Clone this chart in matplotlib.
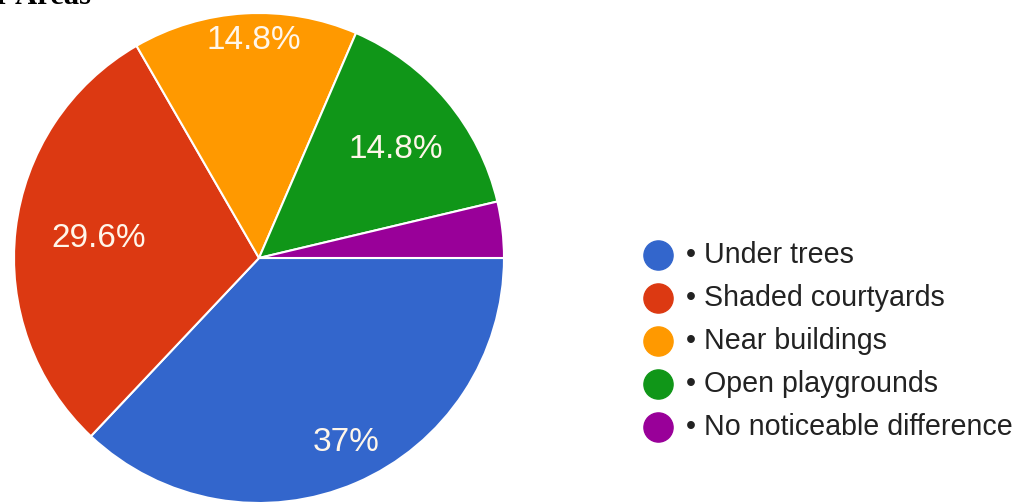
import matplotlib
matplotlib.use("Agg")
import matplotlib.pyplot as plt
from matplotlib.lines import Line2D
import numpy as np

categories = ["Under trees", "Shaded courtyards", "Near buildings",
              "Open playgrounds", "No noticeable difference"]
values = [10, 8, 4, 4, 1]
pct_labels = ["37%", "29.6%", "14.8%", "14.8%", ""]
colors = ["#3366CC", "#DC3912", "#FF9900", "#109618", "#990099"]
label_radius = [0.82, 0.69, 0.89, 0.69, 0.8]
title_text = "r Areas"

W, H = 1019, 504
fig = plt.figure(figsize=(W / 100, H / 100), dpi=100)
fig.patch.set_facecolor("white")

# pie axes: center ~ (259, 258) px, radius ~245 px
cx, cy, r = 259, 258, 245
ax = fig.add_axes([(cx - r) / W, (H - cy - r) / H, 2 * r / W, 2 * r / H])
wedges, _ = ax.pie(values, colors=colors, startangle=0, counterclock=False,
                   radius=1.0, wedgeprops=dict(edgecolor="white", linewidth=1.5))
ax.set_xlim(-1, 1)
ax.set_ylim(-1, 1)
ax.set_aspect("equal")
ax.axis("off")

for w, lab, rf in zip(wedges, pct_labels, label_radius):
    if not lab:
        continue
    ang = np.deg2rad((w.theta1 + w.theta2) / 2)
    ax.text(rf * np.cos(ang) + 0.03, rf * np.sin(ang), lab, ha="center", va="center",
            color="#FFF6EA", fontsize=24, family="Liberation Sans")

# legend
lx_circle, lx_text = 658 / W, 686 / W
y0, dy = 255, 43
for i, (cat, col) in enumerate(zip(categories, colors)):
    y = 1 - (y0 + i * dy) / H
    fig.add_artist(Line2D([lx_circle], [y], marker="o", markersize=21,
                          color=col, markeredgecolor=col, linestyle="none",
                          transform=fig.transFigure))
    fig.text(lx_text, y, "\u2022 " + cat, ha="left", va="center",
             fontsize=20.6, color="#222222", family="Liberation Sans")

# title, cut off at top edge (as in the reference)
fig.text(-4 / W, 1 - 4 / H, title_text, ha="left", va="baseline",
         fontsize=22, fontweight="bold", family="Liberation Serif", color="black")

fig.savefig("out.png", dpi=100)
